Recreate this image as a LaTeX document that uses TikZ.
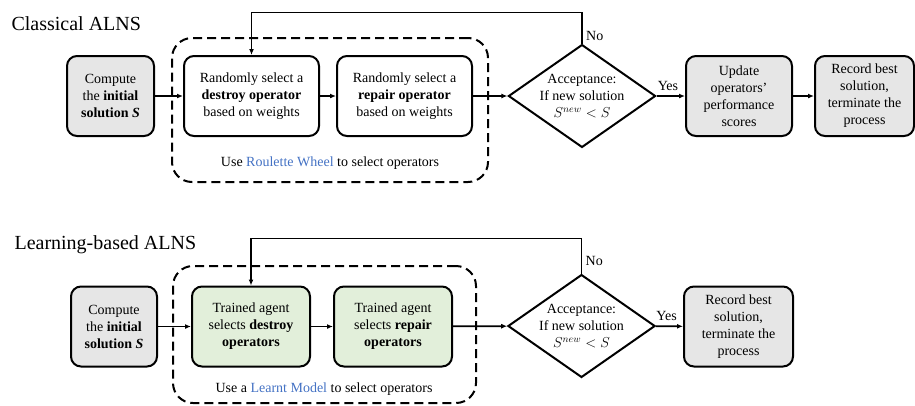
\documentclass[tikz,border=0pt]{standalone}
\usepackage{fontspec}
\setmainfont{Liberation Serif}
\usetikzlibrary{positioning, arrows.meta, fit, shapes.geometric}
\definecolor{boxgray}{HTML}{E6E6E6}
\definecolor{agentgreen}{HTML}{E2EFDA}
\definecolor{linkblue}{HTML}{4472C4}

\begin{document}
\begin{tikzpicture}[x=1pt, y=-1pt,
    font=\fontsize{14}{17}\selectfont,
    opbox/.style={draw, line width=2pt, rounded corners=10pt, align=center,
                  inner sep=2pt, minimum height=80pt},
    startbox/.style={opbox, fill=boxgray},
    agentbox/.style={opbox, fill=agentgreen},
    check/.style={diamond, draw, line width=2pt, aspect=1.43, inner sep=0pt,
                  align=center},
    group/.style={draw, dash pattern=on 9pt off 5pt, line width=2pt,
                  rounded corners=20pt},
    title/.style={font=\fontsize{20}{24}\selectfont, anchor=west},
    flow/.style={-{Latex[length=6pt, width=5pt]}, line width=1.8pt}]
    \useasboundingbox (0,0) rectangle (915,405);

    % classical ALNS
    \node[title] (ttop) at (8,24) {Classical ALNS};
    \node[group, minimum width=316pt, minimum height=144pt] (pool1) at (330,110) {};
    \node[startbox, minimum width=87pt] (init1) at (110.5,96)
        {Compute\\the \textbf{initial}\\\textbf{solution \textit{S}}};
    \node[opbox, minimum width=135pt] (destroy1) at (251.5,96)
        {Randomly select a\\\textbf{destroy operator}\\based on weights};
    \node[opbox, minimum width=135pt] (repair1) at (404.5,96)
        {Randomly select a\\\textbf{repair operator}\\based on weights};
    \node (wheel) at (330,163) {Use \textcolor{linkblue}{Roulette Wheel} to select operators};
    \node[check] (accept1) at (582,96) {Acceptance:\\If new solution\\$S^{new} < S$};
    \node[startbox, minimum width=106pt] (update) at (739,96)
        {Update\\operators'\\performance\\scores};
    \node[startbox, minimum width=99pt] (record1) at (864.5,96)
        {Record best\\solution,\\terminate the\\process};

    \draw[flow] (init1) -- (destroy1);
    \draw[flow] (destroy1) -- (repair1);
    \draw[flow] (repair1) -- (accept1);
    \draw[flow] (accept1) -- node[above=1pt, pos=0.4] {Yes} (update);
    \draw[flow] (update) -- (record1);
    \draw[flow] (accept1.north) -- node[right, pos=0.25] {No} ++(0,-31) -| (destroy1.north);

    % learning-based ALNS
    \node[title] (tbottom) at (11,245) {Learning-based ALNS};
    \node[group, minimum width=303pt, minimum height=137pt] (pool2) at (324.5,334.5) {};
    \node[startbox, minimum width=86pt] (init2) at (114,326.5)
        {Compute\\the \textbf{initial}\\\textbf{solution \textit{S}}};
    \node[agentbox, minimum width=118pt] (destroy2) at (251,326.5)
        {Trained agent\\selects \textbf{destroy}\\\textbf{operators}};
    \node[agentbox, minimum width=118pt] (repair2) at (393,326.5)
        {Trained agent\\selects \textbf{repair}\\\textbf{operators}};
    \node (model) at (324,389) {Use a \textcolor{linkblue}{Learnt Model} to select operators};
    \node[check] (accept2) at (581.5,326) {Acceptance:\\If new solution\\$S^{new} < S$};
    \node[startbox, minimum width=109pt] (record2) at (738.5,326.5)
        {Record best\\solution,\\terminate the\\process};

    \draw[flow] (init2) -- (destroy2);
    \draw[flow] (destroy2) -- (repair2);
    \draw[flow] (repair2) -- (accept2);
    \draw[flow] (accept2) -- node[above=1pt, pos=0.4] {Yes} (record2);
    \draw[flow] (accept2.north) -- node[right, pos=0.35] {No} ++(0,-35) -| (destroy2.north);
\end{tikzpicture}
\end{document}
